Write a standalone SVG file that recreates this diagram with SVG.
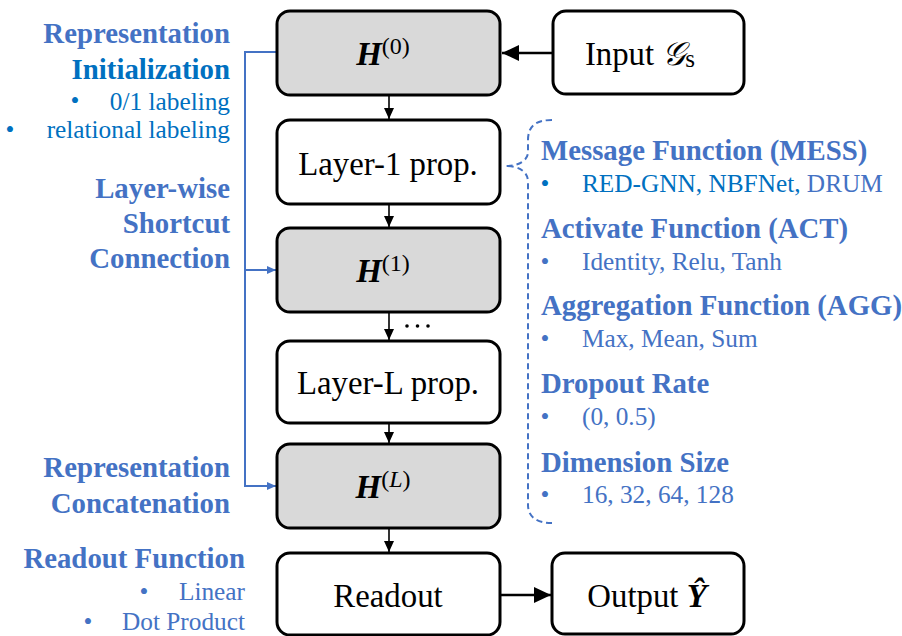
<svg xmlns="http://www.w3.org/2000/svg" width="902" height="636" viewBox="0 0 902 636">
<style>
text{font-family:"Liberation Serif","Times New Roman",serif}
.box{fill:#fff;stroke:#000;stroke-width:3}
.gray{fill:#D9D9D9}
.lbl{font-size:32.8px;fill:#000;text-anchor:middle}
.h{font-size:33px;font-weight:bold;font-style:italic}
.sup{font-size:24px;font-style:normal;font-weight:normal}
.sup .i{font-style:italic}
.hd{font-size:28.8px;font-weight:bold;fill:#4472C4}
.hd2{fill:#0070C0}
.it{font-size:25.3px;fill:#4472C4}
.it2{fill:#0070C0}
.r{text-anchor:end}
.blk{stroke:#000;stroke-width:1.6;fill:none}
.big{stroke:#000;stroke-width:2.6;fill:none}
.blue{stroke:#4472C4;stroke-width:2;fill:none}
</style>
<defs>
<marker id="a" markerUnits="userSpaceOnUse" markerWidth="12" markerHeight="12" viewBox="0 0 12 12" refX="11" refY="6" orient="auto"><path d="M0,1 L11,6 L0,11 Z" fill="#000"/></marker>
<marker id="A" markerUnits="userSpaceOnUse" markerWidth="18" markerHeight="18" viewBox="0 0 18 18" refX="17" refY="9" orient="auto"><path d="M0,1 L17,9 L0,17 Z" fill="#000"/></marker>
<marker id="b" markerUnits="userSpaceOnUse" markerWidth="10" markerHeight="10" viewBox="0 0 10 10" refX="9" refY="5" orient="auto"><path d="M0,1 L9,5 L0,9 Z" fill="#4472C4"/></marker>
</defs>

<g id="connectors">
<line class="blk" x1="389" y1="96" x2="389" y2="119" marker-end="url(#a)"/>
<line class="blk" x1="389" y1="205" x2="389" y2="227" marker-end="url(#a)"/>
<line class="blk" x1="389" y1="313" x2="389" y2="340" marker-end="url(#a)"/>
<line class="blk" x1="389" y1="424" x2="389" y2="443" marker-end="url(#a)"/>
<line class="blk" x1="389" y1="529" x2="389" y2="552" marker-end="url(#a)"/>
<line class="big" x1="553" y1="53" x2="502" y2="53" marker-end="url(#A)"/>
<line class="big" x1="501" y1="595" x2="551" y2="595" marker-end="url(#A)"/>
<path class="blue" d="M277,52 H245 V486 H276" marker-end="url(#b)"/>
<line class="blue" x1="245" y1="270" x2="276" y2="270" marker-end="url(#b)"/>
<path class="blue" stroke-dasharray="6,4" d="M552,120 C536,120 528,126 528,140 L528,152 C528,160 520,166 505,166 C520,166 528,172 528,182 L528,505 C528,517 537,523 552,523"/>
<g fill="#000"><circle cx="407" cy="326" r="1.8"/><circle cx="417.5" cy="326" r="1.8"/><circle cx="428" cy="326" r="1.8"/></g>
</g>

<g id="h0"><rect class="box gray" x="277" y="11" width="223" height="84" rx="13"/>
<text x="383" y="65" class="lbl h">H<tspan class="sup" dy="-11">(0)</tspan></text></g>
<g id="input"><rect class="box" x="553" y="11" width="191" height="83" rx="13"/>
<text x="640" y="65" class="lbl">Input <tspan font-style="italic">𝒢</tspan><tspan font-size="25" dy="2">s</tspan></text></g>
<g id="layer1"><rect class="box" x="277" y="120" width="223" height="84" rx="13"/>
<text x="388" y="175" class="lbl">Layer-1 prop.</text></g>
<g id="h1"><rect class="box gray" x="277" y="228" width="223" height="84" rx="13"/>
<text x="383" y="282" class="lbl h">H<tspan class="sup" dy="-11">(1)</tspan></text></g>
<g id="layerL"><rect class="box" x="277" y="341" width="223" height="82" rx="13"/>
<text x="388" y="394" class="lbl">Layer-L prop.</text></g>
<g id="hL"><rect class="box gray" x="277" y="444" width="223" height="84" rx="13"/>
<text x="383" y="498" class="lbl h">H<tspan class="sup" dy="-11">(<tspan class="i">L</tspan>)</tspan></text></g>
<g id="readout"><rect class="box" x="277" y="553" width="223" height="82" rx="13"/>
<text x="388" y="607" class="lbl">Readout</text></g>
<g id="output"><rect class="box" x="552" y="553" width="192" height="81" rx="13"/>
<text x="647" y="607" class="lbl">Output <tspan font-weight="bold" font-style="italic">Ŷ</tspan></text></g>

<g id="left-text">
<text x="230" y="43" class="hd r">Representation</text>
<text x="230" y="79" class="hd hd2 r">Initialization</text>
<text x="75" y="109" class="it it2" text-anchor="middle">•</text>
<text x="230" y="110" class="it it2 r">0/1 labeling</text>
<text x="10" y="138" class="it it2" text-anchor="middle">•</text>
<text x="230" y="138" class="it it2 r">relational labeling</text>
<text x="230" y="198" class="hd r">Layer-wise</text>
<text x="230" y="233" class="hd r">Shortcut</text>
<text x="230" y="268" class="hd r">Connection</text>
<text x="230" y="477" class="hd r">Representation</text>
<text x="230" y="513" class="hd r">Concatenation</text>
<text x="245" y="568" class="hd r">Readout Function</text>
<text x="144" y="600" class="it" text-anchor="middle">•</text>
<text x="245" y="600" class="it r">Linear</text>
<text x="88" y="630" class="it" text-anchor="middle">•</text>
<text x="245" y="630" class="it r">Dot Product</text>
</g>

<g id="right-text">
<text x="541" y="160" class="hd">Message Function (MESS)</text>
<text x="545" y="192" class="it it2" text-anchor="middle">•</text>
<text x="582" y="192" class="it"><tspan class="it2">RED-GNN, NBFNet,</tspan> DRUM</text>
<text x="541" y="238" class="hd">Activate Function (ACT)</text>
<text x="545" y="270" class="it" text-anchor="middle">•</text>
<text x="582" y="270" class="it">Identity, Relu, Tanh</text>
<text x="541" y="315" class="hd">Aggregation Function (AGG)</text>
<text x="545" y="347" class="it" text-anchor="middle">•</text>
<text x="582" y="347" class="it">Max, Mean, Sum</text>
<text x="541" y="393" class="hd">Dropout Rate</text>
<text x="545" y="425" class="it" text-anchor="middle">•</text>
<text x="582" y="425" class="it">(0, 0.5)</text>
<text x="541" y="472" class="hd">Dimension Size</text>
<text x="545" y="503" class="it" text-anchor="middle">•</text>
<text x="582" y="503" class="it">16, 32, 64, 128</text>
</g>
</svg>
